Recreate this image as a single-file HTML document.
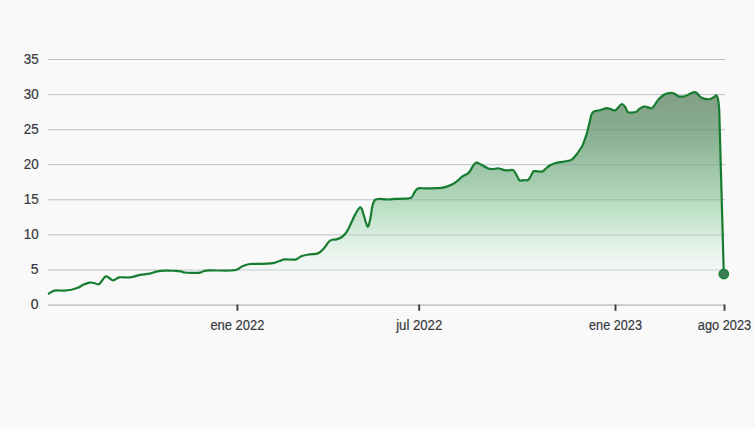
<!DOCTYPE html>
<html><head><meta charset="utf-8"><style>
html,body{margin:0;padding:0;background:#f9f9f9;}
svg{display:block;}
text{font-family:"Liberation Sans",sans-serif;font-size:14px;fill:#35383c;stroke:#35383c;stroke-width:0.2px;}
.yl{text-anchor:end;}
.xl{text-anchor:middle;}
.g{stroke:rgb(110,115,140);stroke-opacity:0.42;stroke-width:1;}
.ax{stroke:#b0b5bb;stroke-width:1.3;}
.tk{stroke:#3a3e44;stroke-width:1.9;}
</style></head><body>
<svg width="755" height="429" viewBox="0 0 755 429">
<defs>
<linearGradient id="fg" x1="0" y1="92" x2="0" y2="305" gradientUnits="userSpaceOnUse">
<stop offset="0.014" stop-color="rgb(25,82,34)" stop-opacity="0.527"/>
<stop offset="0.061" stop-color="rgb(25,84,35)" stop-opacity="0.522"/>
<stop offset="0.155" stop-color="rgb(25,96,37)" stop-opacity="0.504"/>
<stop offset="0.225" stop-color="rgb(25,104,42)" stop-opacity="0.482"/>
<stop offset="0.296" stop-color="rgb(25,113,43)" stop-opacity="0.442"/>
<stop offset="0.390" stop-color="rgb(25,125,48)" stop-opacity="0.388"/>
<stop offset="0.460" stop-color="rgb(25,136,54)" stop-opacity="0.344"/>
<stop offset="0.531" stop-color="rgb(25,151,60)" stop-opacity="0.286"/>
<stop offset="0.601" stop-color="rgb(25,160,58)" stop-opacity="0.214"/>
<stop offset="0.671" stop-color="rgb(25,163,71)" stop-opacity="0.152"/>
<stop offset="0.742" stop-color="rgb(25,162,62)" stop-opacity="0.080"/>
<stop offset="0.812" stop-color="rgb(25,153,57)" stop-opacity="0.031"/>
<stop offset="0.883" stop-color="rgb(25,137,25)" stop-opacity="0.009"/>
<stop offset="1.000" stop-color="rgb(25,150,70)" stop-opacity="0.000"/>
</linearGradient>
</defs>
<rect width="755" height="429" fill="#f9f9f9"/>
<clipPath id="inA"><path d="M48.0,294.0 C49.1,293.4 51.8,291.2 54.5,290.6 C57.2,290.0 61.3,290.8 64.1,290.6 C66.9,290.5 69.2,290.2 71.5,289.7 C73.8,289.2 75.8,288.6 77.8,287.8 C79.8,287.0 81.8,285.5 83.7,284.6 C85.7,283.7 87.8,282.9 89.5,282.6 C91.2,282.3 92.4,282.8 94.0,283.0 C95.6,283.2 97.3,285.1 99.3,284.0 C101.3,282.9 103.7,277.0 105.9,276.4 C108.2,275.8 110.6,280.1 112.8,280.3 C115.0,280.5 116.8,277.9 119.2,277.4 C121.6,276.9 125.2,277.6 127.4,277.5 C129.7,277.4 130.6,277.3 132.7,276.9 C134.8,276.4 137.3,275.3 140.1,274.8 C142.9,274.3 146.9,274.3 149.7,273.7 C152.5,273.1 154.4,271.8 157.1,271.3 C159.8,270.8 162.6,270.7 165.6,270.6 C168.6,270.5 172.5,270.7 175.1,270.8 C177.7,270.9 179.3,271.1 180.9,271.4 C182.5,271.7 183.2,272.3 184.8,272.5 C186.4,272.7 188.0,272.8 190.5,272.8 C193.0,272.8 197.5,273.0 200.0,272.6 C202.5,272.2 202.9,271.0 205.6,270.6 C208.3,270.2 212.1,270.5 216.2,270.5 C220.3,270.5 226.6,270.6 230.0,270.5 C233.4,270.4 234.4,270.5 236.5,269.8 C238.6,269.1 240.2,267.3 242.5,266.3 C244.8,265.3 247.3,264.4 250.0,264.0 C252.7,263.6 255.8,263.9 258.6,263.9 C261.4,263.8 264.4,263.9 267.0,263.7 C269.6,263.5 271.9,263.3 274.0,262.9 C276.1,262.4 277.7,261.6 279.5,261.0 C281.3,260.4 282.3,259.5 285.0,259.3 C287.7,259.1 292.8,260.1 295.5,259.6 C298.2,259.1 299.0,257.1 301.3,256.2 C303.6,255.3 306.8,254.8 309.2,254.4 C311.6,254.0 313.8,254.2 315.5,253.9 C317.2,253.6 318.0,253.5 319.5,252.5 C321.0,251.5 322.7,249.8 324.3,248.0 C325.9,246.2 327.6,242.9 329.0,241.5 C330.4,240.1 331.8,239.9 333.0,239.6 C334.2,239.2 335.1,239.8 336.5,239.4 C337.9,239.0 340.1,238.2 341.5,237.3 C342.9,236.4 343.8,235.4 345.0,234.0 C346.2,232.6 346.9,232.0 348.5,228.8 C350.1,225.7 352.9,218.7 354.9,215.1 C356.8,211.5 358.8,207.7 360.2,207.3 C361.6,206.9 361.8,209.4 363.0,212.6 C364.2,215.8 366.3,225.6 367.5,226.5 C368.7,227.4 369.6,221.7 370.4,218.3 C371.2,214.9 371.6,209.1 372.4,206.0 C373.1,202.9 374.0,201.1 374.9,200.0 C375.8,198.9 376.8,199.4 377.7,199.2 C378.6,199.0 378.1,198.8 380.0,198.9 C381.9,199.0 386.5,199.5 389.0,199.5 C391.5,199.5 392.4,199.1 395.0,198.9 C397.6,198.8 401.6,198.8 404.3,198.6 C407.0,198.4 409.5,198.9 411.3,197.7 C413.1,196.5 413.8,193.1 415.0,191.5 C416.2,189.9 416.6,188.9 418.3,188.4 C420.0,187.9 422.4,188.4 425.3,188.4 C428.2,188.4 432.7,188.4 435.8,188.2 C438.9,188.0 441.2,188.1 444.0,187.4 C446.8,186.8 450.2,185.5 452.5,184.3 C454.8,183.1 456.4,181.7 458.0,180.4 C459.6,179.1 460.8,177.6 462.2,176.6 C463.6,175.6 465.1,175.2 466.3,174.4 C467.5,173.6 468.4,173.2 469.5,171.8 C470.6,170.4 471.8,167.7 472.9,166.2 C474.0,164.7 474.9,162.9 476.2,162.6 C477.5,162.3 478.9,163.6 480.9,164.6 C482.9,165.6 486.4,167.8 488.3,168.5 C490.2,169.2 490.7,169.0 492.5,169.0 C494.3,169.0 496.9,168.3 498.9,168.5 C500.8,168.7 502.6,169.8 504.2,170.1 C505.8,170.4 506.9,170.4 508.4,170.4 C509.9,170.4 511.9,169.4 513.2,170.1 C514.5,170.8 515.2,172.8 516.3,174.5 C517.3,176.2 518.2,179.4 519.5,180.3 C520.8,181.2 522.5,180.3 524.0,180.2 C525.5,180.1 527.1,180.9 528.6,179.6 C530.1,178.3 531.8,173.6 532.8,172.2 C533.8,170.8 533.7,171.3 534.9,171.2 C536.1,171.1 538.9,171.7 540.2,171.7 C541.5,171.7 541.8,171.9 542.8,171.3 C543.8,170.7 545.2,169.0 546.5,168.0 C547.8,167.0 548.9,166.0 550.3,165.2 C551.7,164.4 553.2,163.8 554.9,163.3 C556.6,162.8 558.6,162.4 560.5,162.1 C562.4,161.8 564.3,161.6 566.1,161.2 C567.9,160.8 569.8,161.0 571.5,159.9 C573.2,158.8 575.1,156.2 576.5,154.5 C577.9,152.8 578.9,151.2 580.0,149.5 C581.1,147.8 582.0,146.7 583.0,144.3 C584.0,141.9 585.3,138.4 586.3,135.2 C587.3,131.9 588.1,128.2 589.0,124.8 C589.9,121.3 590.7,116.7 591.5,114.5 C592.3,112.3 592.5,112.2 594.0,111.4 C595.5,110.7 598.4,110.5 600.5,110.0 C602.6,109.5 605.2,108.4 606.9,108.2 C608.6,108.0 609.4,108.7 610.8,109.1 C612.2,109.5 614.0,110.7 615.3,110.4 C616.6,110.1 617.4,108.3 618.5,107.2 C619.6,106.1 620.6,104.1 621.7,104.0 C622.8,103.9 623.9,105.2 624.9,106.5 C625.9,107.8 626.8,111.0 627.8,112.0 C628.8,113.0 629.6,112.6 631.0,112.6 C632.4,112.5 635.0,112.3 636.4,111.7 C637.8,111.1 637.9,110.1 639.1,109.2 C640.3,108.3 642.2,106.9 643.6,106.6 C645.0,106.2 645.9,106.8 647.2,107.1 C648.6,107.4 650.5,108.5 651.7,108.2 C652.9,107.9 653.4,106.6 654.6,105.1 C655.8,103.6 657.2,101.0 658.7,99.3 C660.2,97.6 662.1,96.0 663.6,95.0 C665.1,94.0 666.3,93.7 667.7,93.4 C669.1,93.1 670.9,92.9 672.1,93.0 C673.3,93.1 674.0,93.4 675.0,93.9 C676.0,94.4 677.2,95.8 678.3,96.2 C679.4,96.7 680.3,96.6 681.5,96.6 C682.7,96.6 684.2,96.5 685.6,96.0 C687.0,95.5 688.6,94.5 689.7,93.9 C690.8,93.4 691.5,93.0 692.3,92.7 C693.1,92.4 693.7,92.1 694.5,92.2 C695.3,92.3 696.1,92.5 697.0,93.2 C697.9,93.9 698.9,95.7 699.9,96.5 C700.9,97.3 701.6,97.8 702.8,98.3 C704.0,98.8 705.6,99.1 706.9,99.2 C708.2,99.3 709.3,99.3 710.4,99.0 C711.5,98.7 712.4,98.0 713.3,97.4 C714.2,96.8 715.5,95.7 716.0,95.4 C717.6,95.0 718.7,101.5 719.2,109 L723.8,274.0 L723.8,304.5 L48.0,304.5 Z"/></clipPath>
<mask id="outA"><rect width="755" height="429" fill="#fff"/><path d="M48.0,294.0 C49.1,293.4 51.8,291.2 54.5,290.6 C57.2,290.0 61.3,290.8 64.1,290.6 C66.9,290.5 69.2,290.2 71.5,289.7 C73.8,289.2 75.8,288.6 77.8,287.8 C79.8,287.0 81.8,285.5 83.7,284.6 C85.7,283.7 87.8,282.9 89.5,282.6 C91.2,282.3 92.4,282.8 94.0,283.0 C95.6,283.2 97.3,285.1 99.3,284.0 C101.3,282.9 103.7,277.0 105.9,276.4 C108.2,275.8 110.6,280.1 112.8,280.3 C115.0,280.5 116.8,277.9 119.2,277.4 C121.6,276.9 125.2,277.6 127.4,277.5 C129.7,277.4 130.6,277.3 132.7,276.9 C134.8,276.4 137.3,275.3 140.1,274.8 C142.9,274.3 146.9,274.3 149.7,273.7 C152.5,273.1 154.4,271.8 157.1,271.3 C159.8,270.8 162.6,270.7 165.6,270.6 C168.6,270.5 172.5,270.7 175.1,270.8 C177.7,270.9 179.3,271.1 180.9,271.4 C182.5,271.7 183.2,272.3 184.8,272.5 C186.4,272.7 188.0,272.8 190.5,272.8 C193.0,272.8 197.5,273.0 200.0,272.6 C202.5,272.2 202.9,271.0 205.6,270.6 C208.3,270.2 212.1,270.5 216.2,270.5 C220.3,270.5 226.6,270.6 230.0,270.5 C233.4,270.4 234.4,270.5 236.5,269.8 C238.6,269.1 240.2,267.3 242.5,266.3 C244.8,265.3 247.3,264.4 250.0,264.0 C252.7,263.6 255.8,263.9 258.6,263.9 C261.4,263.8 264.4,263.9 267.0,263.7 C269.6,263.5 271.9,263.3 274.0,262.9 C276.1,262.4 277.7,261.6 279.5,261.0 C281.3,260.4 282.3,259.5 285.0,259.3 C287.7,259.1 292.8,260.1 295.5,259.6 C298.2,259.1 299.0,257.1 301.3,256.2 C303.6,255.3 306.8,254.8 309.2,254.4 C311.6,254.0 313.8,254.2 315.5,253.9 C317.2,253.6 318.0,253.5 319.5,252.5 C321.0,251.5 322.7,249.8 324.3,248.0 C325.9,246.2 327.6,242.9 329.0,241.5 C330.4,240.1 331.8,239.9 333.0,239.6 C334.2,239.2 335.1,239.8 336.5,239.4 C337.9,239.0 340.1,238.2 341.5,237.3 C342.9,236.4 343.8,235.4 345.0,234.0 C346.2,232.6 346.9,232.0 348.5,228.8 C350.1,225.7 352.9,218.7 354.9,215.1 C356.8,211.5 358.8,207.7 360.2,207.3 C361.6,206.9 361.8,209.4 363.0,212.6 C364.2,215.8 366.3,225.6 367.5,226.5 C368.7,227.4 369.6,221.7 370.4,218.3 C371.2,214.9 371.6,209.1 372.4,206.0 C373.1,202.9 374.0,201.1 374.9,200.0 C375.8,198.9 376.8,199.4 377.7,199.2 C378.6,199.0 378.1,198.8 380.0,198.9 C381.9,199.0 386.5,199.5 389.0,199.5 C391.5,199.5 392.4,199.1 395.0,198.9 C397.6,198.8 401.6,198.8 404.3,198.6 C407.0,198.4 409.5,198.9 411.3,197.7 C413.1,196.5 413.8,193.1 415.0,191.5 C416.2,189.9 416.6,188.9 418.3,188.4 C420.0,187.9 422.4,188.4 425.3,188.4 C428.2,188.4 432.7,188.4 435.8,188.2 C438.9,188.0 441.2,188.1 444.0,187.4 C446.8,186.8 450.2,185.5 452.5,184.3 C454.8,183.1 456.4,181.7 458.0,180.4 C459.6,179.1 460.8,177.6 462.2,176.6 C463.6,175.6 465.1,175.2 466.3,174.4 C467.5,173.6 468.4,173.2 469.5,171.8 C470.6,170.4 471.8,167.7 472.9,166.2 C474.0,164.7 474.9,162.9 476.2,162.6 C477.5,162.3 478.9,163.6 480.9,164.6 C482.9,165.6 486.4,167.8 488.3,168.5 C490.2,169.2 490.7,169.0 492.5,169.0 C494.3,169.0 496.9,168.3 498.9,168.5 C500.8,168.7 502.6,169.8 504.2,170.1 C505.8,170.4 506.9,170.4 508.4,170.4 C509.9,170.4 511.9,169.4 513.2,170.1 C514.5,170.8 515.2,172.8 516.3,174.5 C517.3,176.2 518.2,179.4 519.5,180.3 C520.8,181.2 522.5,180.3 524.0,180.2 C525.5,180.1 527.1,180.9 528.6,179.6 C530.1,178.3 531.8,173.6 532.8,172.2 C533.8,170.8 533.7,171.3 534.9,171.2 C536.1,171.1 538.9,171.7 540.2,171.7 C541.5,171.7 541.8,171.9 542.8,171.3 C543.8,170.7 545.2,169.0 546.5,168.0 C547.8,167.0 548.9,166.0 550.3,165.2 C551.7,164.4 553.2,163.8 554.9,163.3 C556.6,162.8 558.6,162.4 560.5,162.1 C562.4,161.8 564.3,161.6 566.1,161.2 C567.9,160.8 569.8,161.0 571.5,159.9 C573.2,158.8 575.1,156.2 576.5,154.5 C577.9,152.8 578.9,151.2 580.0,149.5 C581.1,147.8 582.0,146.7 583.0,144.3 C584.0,141.9 585.3,138.4 586.3,135.2 C587.3,131.9 588.1,128.2 589.0,124.8 C589.9,121.3 590.7,116.7 591.5,114.5 C592.3,112.3 592.5,112.2 594.0,111.4 C595.5,110.7 598.4,110.5 600.5,110.0 C602.6,109.5 605.2,108.4 606.9,108.2 C608.6,108.0 609.4,108.7 610.8,109.1 C612.2,109.5 614.0,110.7 615.3,110.4 C616.6,110.1 617.4,108.3 618.5,107.2 C619.6,106.1 620.6,104.1 621.7,104.0 C622.8,103.9 623.9,105.2 624.9,106.5 C625.9,107.8 626.8,111.0 627.8,112.0 C628.8,113.0 629.6,112.6 631.0,112.6 C632.4,112.5 635.0,112.3 636.4,111.7 C637.8,111.1 637.9,110.1 639.1,109.2 C640.3,108.3 642.2,106.9 643.6,106.6 C645.0,106.2 645.9,106.8 647.2,107.1 C648.6,107.4 650.5,108.5 651.7,108.2 C652.9,107.9 653.4,106.6 654.6,105.1 C655.8,103.6 657.2,101.0 658.7,99.3 C660.2,97.6 662.1,96.0 663.6,95.0 C665.1,94.0 666.3,93.7 667.7,93.4 C669.1,93.1 670.9,92.9 672.1,93.0 C673.3,93.1 674.0,93.4 675.0,93.9 C676.0,94.4 677.2,95.8 678.3,96.2 C679.4,96.7 680.3,96.6 681.5,96.6 C682.7,96.6 684.2,96.5 685.6,96.0 C687.0,95.5 688.6,94.5 689.7,93.9 C690.8,93.4 691.5,93.0 692.3,92.7 C693.1,92.4 693.7,92.1 694.5,92.2 C695.3,92.3 696.1,92.5 697.0,93.2 C697.9,93.9 698.9,95.7 699.9,96.5 C700.9,97.3 701.6,97.8 702.8,98.3 C704.0,98.8 705.6,99.1 706.9,99.2 C708.2,99.3 709.3,99.3 710.4,99.0 C711.5,98.7 712.4,98.0 713.3,97.4 C714.2,96.8 715.5,95.7 716.0,95.4 C717.6,95.0 718.7,101.5 719.2,109 L723.8,274.0 L723.8,304.5 L48.0,304.5 Z" fill="#000"/></mask>
<path d="M48.0,294.0 C49.1,293.4 51.8,291.2 54.5,290.6 C57.2,290.0 61.3,290.8 64.1,290.6 C66.9,290.5 69.2,290.2 71.5,289.7 C73.8,289.2 75.8,288.6 77.8,287.8 C79.8,287.0 81.8,285.5 83.7,284.6 C85.7,283.7 87.8,282.9 89.5,282.6 C91.2,282.3 92.4,282.8 94.0,283.0 C95.6,283.2 97.3,285.1 99.3,284.0 C101.3,282.9 103.7,277.0 105.9,276.4 C108.2,275.8 110.6,280.1 112.8,280.3 C115.0,280.5 116.8,277.9 119.2,277.4 C121.6,276.9 125.2,277.6 127.4,277.5 C129.7,277.4 130.6,277.3 132.7,276.9 C134.8,276.4 137.3,275.3 140.1,274.8 C142.9,274.3 146.9,274.3 149.7,273.7 C152.5,273.1 154.4,271.8 157.1,271.3 C159.8,270.8 162.6,270.7 165.6,270.6 C168.6,270.5 172.5,270.7 175.1,270.8 C177.7,270.9 179.3,271.1 180.9,271.4 C182.5,271.7 183.2,272.3 184.8,272.5 C186.4,272.7 188.0,272.8 190.5,272.8 C193.0,272.8 197.5,273.0 200.0,272.6 C202.5,272.2 202.9,271.0 205.6,270.6 C208.3,270.2 212.1,270.5 216.2,270.5 C220.3,270.5 226.6,270.6 230.0,270.5 C233.4,270.4 234.4,270.5 236.5,269.8 C238.6,269.1 240.2,267.3 242.5,266.3 C244.8,265.3 247.3,264.4 250.0,264.0 C252.7,263.6 255.8,263.9 258.6,263.9 C261.4,263.8 264.4,263.9 267.0,263.7 C269.6,263.5 271.9,263.3 274.0,262.9 C276.1,262.4 277.7,261.6 279.5,261.0 C281.3,260.4 282.3,259.5 285.0,259.3 C287.7,259.1 292.8,260.1 295.5,259.6 C298.2,259.1 299.0,257.1 301.3,256.2 C303.6,255.3 306.8,254.8 309.2,254.4 C311.6,254.0 313.8,254.2 315.5,253.9 C317.2,253.6 318.0,253.5 319.5,252.5 C321.0,251.5 322.7,249.8 324.3,248.0 C325.9,246.2 327.6,242.9 329.0,241.5 C330.4,240.1 331.8,239.9 333.0,239.6 C334.2,239.2 335.1,239.8 336.5,239.4 C337.9,239.0 340.1,238.2 341.5,237.3 C342.9,236.4 343.8,235.4 345.0,234.0 C346.2,232.6 346.9,232.0 348.5,228.8 C350.1,225.7 352.9,218.7 354.9,215.1 C356.8,211.5 358.8,207.7 360.2,207.3 C361.6,206.9 361.8,209.4 363.0,212.6 C364.2,215.8 366.3,225.6 367.5,226.5 C368.7,227.4 369.6,221.7 370.4,218.3 C371.2,214.9 371.6,209.1 372.4,206.0 C373.1,202.9 374.0,201.1 374.9,200.0 C375.8,198.9 376.8,199.4 377.7,199.2 C378.6,199.0 378.1,198.8 380.0,198.9 C381.9,199.0 386.5,199.5 389.0,199.5 C391.5,199.5 392.4,199.1 395.0,198.9 C397.6,198.8 401.6,198.8 404.3,198.6 C407.0,198.4 409.5,198.9 411.3,197.7 C413.1,196.5 413.8,193.1 415.0,191.5 C416.2,189.9 416.6,188.9 418.3,188.4 C420.0,187.9 422.4,188.4 425.3,188.4 C428.2,188.4 432.7,188.4 435.8,188.2 C438.9,188.0 441.2,188.1 444.0,187.4 C446.8,186.8 450.2,185.5 452.5,184.3 C454.8,183.1 456.4,181.7 458.0,180.4 C459.6,179.1 460.8,177.6 462.2,176.6 C463.6,175.6 465.1,175.2 466.3,174.4 C467.5,173.6 468.4,173.2 469.5,171.8 C470.6,170.4 471.8,167.7 472.9,166.2 C474.0,164.7 474.9,162.9 476.2,162.6 C477.5,162.3 478.9,163.6 480.9,164.6 C482.9,165.6 486.4,167.8 488.3,168.5 C490.2,169.2 490.7,169.0 492.5,169.0 C494.3,169.0 496.9,168.3 498.9,168.5 C500.8,168.7 502.6,169.8 504.2,170.1 C505.8,170.4 506.9,170.4 508.4,170.4 C509.9,170.4 511.9,169.4 513.2,170.1 C514.5,170.8 515.2,172.8 516.3,174.5 C517.3,176.2 518.2,179.4 519.5,180.3 C520.8,181.2 522.5,180.3 524.0,180.2 C525.5,180.1 527.1,180.9 528.6,179.6 C530.1,178.3 531.8,173.6 532.8,172.2 C533.8,170.8 533.7,171.3 534.9,171.2 C536.1,171.1 538.9,171.7 540.2,171.7 C541.5,171.7 541.8,171.9 542.8,171.3 C543.8,170.7 545.2,169.0 546.5,168.0 C547.8,167.0 548.9,166.0 550.3,165.2 C551.7,164.4 553.2,163.8 554.9,163.3 C556.6,162.8 558.6,162.4 560.5,162.1 C562.4,161.8 564.3,161.6 566.1,161.2 C567.9,160.8 569.8,161.0 571.5,159.9 C573.2,158.8 575.1,156.2 576.5,154.5 C577.9,152.8 578.9,151.2 580.0,149.5 C581.1,147.8 582.0,146.7 583.0,144.3 C584.0,141.9 585.3,138.4 586.3,135.2 C587.3,131.9 588.1,128.2 589.0,124.8 C589.9,121.3 590.7,116.7 591.5,114.5 C592.3,112.3 592.5,112.2 594.0,111.4 C595.5,110.7 598.4,110.5 600.5,110.0 C602.6,109.5 605.2,108.4 606.9,108.2 C608.6,108.0 609.4,108.7 610.8,109.1 C612.2,109.5 614.0,110.7 615.3,110.4 C616.6,110.1 617.4,108.3 618.5,107.2 C619.6,106.1 620.6,104.1 621.7,104.0 C622.8,103.9 623.9,105.2 624.9,106.5 C625.9,107.8 626.8,111.0 627.8,112.0 C628.8,113.0 629.6,112.6 631.0,112.6 C632.4,112.5 635.0,112.3 636.4,111.7 C637.8,111.1 637.9,110.1 639.1,109.2 C640.3,108.3 642.2,106.9 643.6,106.6 C645.0,106.2 645.9,106.8 647.2,107.1 C648.6,107.4 650.5,108.5 651.7,108.2 C652.9,107.9 653.4,106.6 654.6,105.1 C655.8,103.6 657.2,101.0 658.7,99.3 C660.2,97.6 662.1,96.0 663.6,95.0 C665.1,94.0 666.3,93.7 667.7,93.4 C669.1,93.1 670.9,92.9 672.1,93.0 C673.3,93.1 674.0,93.4 675.0,93.9 C676.0,94.4 677.2,95.8 678.3,96.2 C679.4,96.7 680.3,96.6 681.5,96.6 C682.7,96.6 684.2,96.5 685.6,96.0 C687.0,95.5 688.6,94.5 689.7,93.9 C690.8,93.4 691.5,93.0 692.3,92.7 C693.1,92.4 693.7,92.1 694.5,92.2 C695.3,92.3 696.1,92.5 697.0,93.2 C697.9,93.9 698.9,95.7 699.9,96.5 C700.9,97.3 701.6,97.8 702.8,98.3 C704.0,98.8 705.6,99.1 706.9,99.2 C708.2,99.3 709.3,99.3 710.4,99.0 C711.5,98.7 712.4,98.0 713.3,97.4 C714.2,96.8 715.5,95.7 716.0,95.4 C717.6,95.0 718.7,101.5 719.2,109 L723.8,274.0 L723.8,304.5 L48.0,304.5 Z" fill="url(#fg)"/>
<g mask="url(#outA)"><line x1="48" x2="725" y1="59.5" y2="59.5" class="g"/>
<line x1="48" x2="725" y1="94.6" y2="94.6" class="g"/>
<line x1="48" x2="725" y1="129.7" y2="129.7" class="g"/>
<line x1="48" x2="725" y1="164.7" y2="164.7" class="g"/>
<line x1="48" x2="725" y1="199.8" y2="199.8" class="g"/>
<line x1="48" x2="725" y1="234.9" y2="234.9" class="g"/>
<line x1="48" x2="725" y1="270.0" y2="270.0" class="g"/>
</g>
<g clip-path="url(#inA)" opacity="0.7"><line x1="48" x2="725" y1="59.5" y2="59.5" class="g"/>
<line x1="48" x2="725" y1="94.6" y2="94.6" class="g"/>
<line x1="48" x2="725" y1="129.7" y2="129.7" class="g"/>
<line x1="48" x2="725" y1="164.7" y2="164.7" class="g"/>
<line x1="48" x2="725" y1="199.8" y2="199.8" class="g"/>
<line x1="48" x2="725" y1="234.9" y2="234.9" class="g"/>
<line x1="48" x2="725" y1="270.0" y2="270.0" class="g"/>
</g>
<line x1="48" x2="725" y1="305.2" y2="305.2" class="ax"/>
<line x1="237.4" x2="237.4" y1="304.5" y2="310.8" class="tk"/>
<text x="237.4" y="330" class="xl" textLength="54.0" lengthAdjust="spacingAndGlyphs">ene 2022</text>
<line x1="419.2" x2="419.2" y1="304.5" y2="310.8" class="tk"/>
<text x="419.2" y="330" class="xl" textLength="46.0" lengthAdjust="spacingAndGlyphs">jul 2022</text>
<line x1="615.5" x2="615.5" y1="304.5" y2="310.8" class="tk"/>
<text x="615.5" y="330" class="xl" textLength="53.0" lengthAdjust="spacingAndGlyphs">ene 2023</text>
<line x1="724.5" x2="724.5" y1="304.5" y2="310.8" class="tk"/>
<text x="724.5" y="330" class="xl" textLength="53.4" lengthAdjust="spacingAndGlyphs">ago 2023</text>

<text x="38.6" y="63.5" class="yl" textLength="14.9" lengthAdjust="spacingAndGlyphs">35</text>
<text x="38.6" y="98.6" class="yl" textLength="14.9" lengthAdjust="spacingAndGlyphs">30</text>
<text x="38.6" y="133.7" class="yl" textLength="14.9" lengthAdjust="spacingAndGlyphs">25</text>
<text x="38.6" y="168.7" class="yl" textLength="14.9" lengthAdjust="spacingAndGlyphs">20</text>
<text x="38.6" y="203.8" class="yl" textLength="14.9" lengthAdjust="spacingAndGlyphs">15</text>
<text x="38.6" y="238.9" class="yl" textLength="14.9" lengthAdjust="spacingAndGlyphs">10</text>
<text x="38.6" y="274.0" class="yl">5</text>
<text x="38.6" y="309.1" class="yl">0</text>

<path d="M48.0,294.0 C49.1,293.4 51.8,291.2 54.5,290.6 C57.2,290.0 61.3,290.8 64.1,290.6 C66.9,290.5 69.2,290.2 71.5,289.7 C73.8,289.2 75.8,288.6 77.8,287.8 C79.8,287.0 81.8,285.5 83.7,284.6 C85.7,283.7 87.8,282.9 89.5,282.6 C91.2,282.3 92.4,282.8 94.0,283.0 C95.6,283.2 97.3,285.1 99.3,284.0 C101.3,282.9 103.7,277.0 105.9,276.4 C108.2,275.8 110.6,280.1 112.8,280.3 C115.0,280.5 116.8,277.9 119.2,277.4 C121.6,276.9 125.2,277.6 127.4,277.5 C129.7,277.4 130.6,277.3 132.7,276.9 C134.8,276.4 137.3,275.3 140.1,274.8 C142.9,274.3 146.9,274.3 149.7,273.7 C152.5,273.1 154.4,271.8 157.1,271.3 C159.8,270.8 162.6,270.7 165.6,270.6 C168.6,270.5 172.5,270.7 175.1,270.8 C177.7,270.9 179.3,271.1 180.9,271.4 C182.5,271.7 183.2,272.3 184.8,272.5 C186.4,272.7 188.0,272.8 190.5,272.8 C193.0,272.8 197.5,273.0 200.0,272.6 C202.5,272.2 202.9,271.0 205.6,270.6 C208.3,270.2 212.1,270.5 216.2,270.5 C220.3,270.5 226.6,270.6 230.0,270.5 C233.4,270.4 234.4,270.5 236.5,269.8 C238.6,269.1 240.2,267.3 242.5,266.3 C244.8,265.3 247.3,264.4 250.0,264.0 C252.7,263.6 255.8,263.9 258.6,263.9 C261.4,263.8 264.4,263.9 267.0,263.7 C269.6,263.5 271.9,263.3 274.0,262.9 C276.1,262.4 277.7,261.6 279.5,261.0 C281.3,260.4 282.3,259.5 285.0,259.3 C287.7,259.1 292.8,260.1 295.5,259.6 C298.2,259.1 299.0,257.1 301.3,256.2 C303.6,255.3 306.8,254.8 309.2,254.4 C311.6,254.0 313.8,254.2 315.5,253.9 C317.2,253.6 318.0,253.5 319.5,252.5 C321.0,251.5 322.7,249.8 324.3,248.0 C325.9,246.2 327.6,242.9 329.0,241.5 C330.4,240.1 331.8,239.9 333.0,239.6 C334.2,239.2 335.1,239.8 336.5,239.4 C337.9,239.0 340.1,238.2 341.5,237.3 C342.9,236.4 343.8,235.4 345.0,234.0 C346.2,232.6 346.9,232.0 348.5,228.8 C350.1,225.7 352.9,218.7 354.9,215.1 C356.8,211.5 358.8,207.7 360.2,207.3 C361.6,206.9 361.8,209.4 363.0,212.6 C364.2,215.8 366.3,225.6 367.5,226.5 C368.7,227.4 369.6,221.7 370.4,218.3 C371.2,214.9 371.6,209.1 372.4,206.0 C373.1,202.9 374.0,201.1 374.9,200.0 C375.8,198.9 376.8,199.4 377.7,199.2 C378.6,199.0 378.1,198.8 380.0,198.9 C381.9,199.0 386.5,199.5 389.0,199.5 C391.5,199.5 392.4,199.1 395.0,198.9 C397.6,198.8 401.6,198.8 404.3,198.6 C407.0,198.4 409.5,198.9 411.3,197.7 C413.1,196.5 413.8,193.1 415.0,191.5 C416.2,189.9 416.6,188.9 418.3,188.4 C420.0,187.9 422.4,188.4 425.3,188.4 C428.2,188.4 432.7,188.4 435.8,188.2 C438.9,188.0 441.2,188.1 444.0,187.4 C446.8,186.8 450.2,185.5 452.5,184.3 C454.8,183.1 456.4,181.7 458.0,180.4 C459.6,179.1 460.8,177.6 462.2,176.6 C463.6,175.6 465.1,175.2 466.3,174.4 C467.5,173.6 468.4,173.2 469.5,171.8 C470.6,170.4 471.8,167.7 472.9,166.2 C474.0,164.7 474.9,162.9 476.2,162.6 C477.5,162.3 478.9,163.6 480.9,164.6 C482.9,165.6 486.4,167.8 488.3,168.5 C490.2,169.2 490.7,169.0 492.5,169.0 C494.3,169.0 496.9,168.3 498.9,168.5 C500.8,168.7 502.6,169.8 504.2,170.1 C505.8,170.4 506.9,170.4 508.4,170.4 C509.9,170.4 511.9,169.4 513.2,170.1 C514.5,170.8 515.2,172.8 516.3,174.5 C517.3,176.2 518.2,179.4 519.5,180.3 C520.8,181.2 522.5,180.3 524.0,180.2 C525.5,180.1 527.1,180.9 528.6,179.6 C530.1,178.3 531.8,173.6 532.8,172.2 C533.8,170.8 533.7,171.3 534.9,171.2 C536.1,171.1 538.9,171.7 540.2,171.7 C541.5,171.7 541.8,171.9 542.8,171.3 C543.8,170.7 545.2,169.0 546.5,168.0 C547.8,167.0 548.9,166.0 550.3,165.2 C551.7,164.4 553.2,163.8 554.9,163.3 C556.6,162.8 558.6,162.4 560.5,162.1 C562.4,161.8 564.3,161.6 566.1,161.2 C567.9,160.8 569.8,161.0 571.5,159.9 C573.2,158.8 575.1,156.2 576.5,154.5 C577.9,152.8 578.9,151.2 580.0,149.5 C581.1,147.8 582.0,146.7 583.0,144.3 C584.0,141.9 585.3,138.4 586.3,135.2 C587.3,131.9 588.1,128.2 589.0,124.8 C589.9,121.3 590.7,116.7 591.5,114.5 C592.3,112.3 592.5,112.2 594.0,111.4 C595.5,110.7 598.4,110.5 600.5,110.0 C602.6,109.5 605.2,108.4 606.9,108.2 C608.6,108.0 609.4,108.7 610.8,109.1 C612.2,109.5 614.0,110.7 615.3,110.4 C616.6,110.1 617.4,108.3 618.5,107.2 C619.6,106.1 620.6,104.1 621.7,104.0 C622.8,103.9 623.9,105.2 624.9,106.5 C625.9,107.8 626.8,111.0 627.8,112.0 C628.8,113.0 629.6,112.6 631.0,112.6 C632.4,112.5 635.0,112.3 636.4,111.7 C637.8,111.1 637.9,110.1 639.1,109.2 C640.3,108.3 642.2,106.9 643.6,106.6 C645.0,106.2 645.9,106.8 647.2,107.1 C648.6,107.4 650.5,108.5 651.7,108.2 C652.9,107.9 653.4,106.6 654.6,105.1 C655.8,103.6 657.2,101.0 658.7,99.3 C660.2,97.6 662.1,96.0 663.6,95.0 C665.1,94.0 666.3,93.7 667.7,93.4 C669.1,93.1 670.9,92.9 672.1,93.0 C673.3,93.1 674.0,93.4 675.0,93.9 C676.0,94.4 677.2,95.8 678.3,96.2 C679.4,96.7 680.3,96.6 681.5,96.6 C682.7,96.6 684.2,96.5 685.6,96.0 C687.0,95.5 688.6,94.5 689.7,93.9 C690.8,93.4 691.5,93.0 692.3,92.7 C693.1,92.4 693.7,92.1 694.5,92.2 C695.3,92.3 696.1,92.5 697.0,93.2 C697.9,93.9 698.9,95.7 699.9,96.5 C700.9,97.3 701.6,97.8 702.8,98.3 C704.0,98.8 705.6,99.1 706.9,99.2 C708.2,99.3 709.3,99.3 710.4,99.0 C711.5,98.7 712.4,98.0 713.3,97.4 C714.2,96.8 715.5,95.7 716.0,95.4 C717.6,95.0 718.7,101.5 719.2,109 L723.8,274.0" fill="none" stroke="#167c2f" stroke-width="2.2" stroke-linejoin="round" stroke-linecap="butt"/>
<circle cx="723.8" cy="274" r="4.7" fill="#3a7d55" stroke="#1f8a3a" stroke-width="1.5"/>
</svg>
</body></html>
